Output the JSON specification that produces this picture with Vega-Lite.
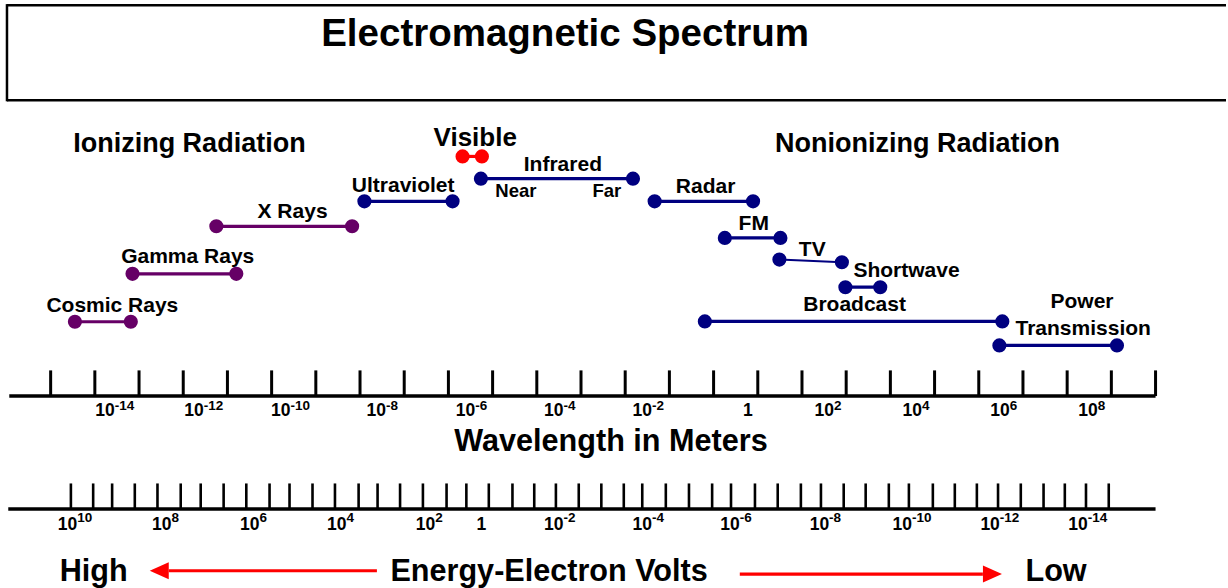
{
  "$schema": "https://vega.github.io/schema/vega-lite/v6.json",
  "width": 1228,
  "height": 588,
  "autosize": {"type": "fit", "contains": "padding"},
  "padding": 0,
  "background": "white",
  "config": {"view": {"stroke": null}},
  "datasets": {
    "frame": [
      {"x1": -16.488, "x2": 11.094, "y1": 99.10, "y2": 99.10},
      {"x1": -16.488, "x2": 11.094, "y1": 82.94, "y2": 82.94},
      {"x1": -16.488, "x2": -16.488, "y1": 99.30, "y2": 82.74}
    ],
    "segments": [
      {"name": "Cosmic Rays", "group": "ionizing", "x1": -14.951, "x2": -13.686, "y1": 45.19, "y2": 45.19},
      {"name": "Gamma Rays", "group": "ionizing", "x1": -13.648, "x2": -11.299, "y1": 53.35, "y2": 53.35},
      {"name": "X Rays", "group": "ionizing", "x1": -11.751, "x2": -8.679, "y1": 61.45, "y2": 61.45},
      {"name": "Ultraviolet", "group": "other", "x1": -8.401, "x2": -6.406, "y1": 65.70, "y2": 65.70},
      {"name": "Visible", "group": "visible", "x1": -6.180, "x2": -5.742, "y1": 73.35, "y2": 73.35},
      {"name": "Infrared", "group": "other", "x1": -5.765, "x2": -2.324, "y1": 69.56, "y2": 69.56},
      {"name": "Radar", "group": "other", "x1": -1.834, "x2": 0.393, "y1": 65.70, "y2": 65.70},
      {"name": "FM", "group": "other", "x1": -0.246, "x2": 1.012, "y1": 59.47, "y2": 59.47},
      {"name": "TV", "group": "other", "x1": 0.989, "x2": 2.403, "y1": 55.78, "y2": 55.32},
      {"name": "Shortwave", "group": "other", "x1": 2.482, "x2": 3.271, "y1": 51.07, "y2": 51.07},
      {"name": "Broadcast", "group": "other", "x1": -0.698, "x2": 6.033, "y1": 45.24, "y2": 45.24},
      {"name": "Power Transmission", "group": "other", "x1": 5.966, "x2": 8.627, "y1": 41.16, "y2": 41.16}
    ],
    "labels": [
      {"text": "Electromagnetic Spectrum", "kind": "title", "x": -3.860, "y": 92.18},
      {"text": "Ionizing Radiation", "kind": "heading", "x": -12.361, "y": 74.03},
      {"text": "Nonionizing Radiation", "kind": "heading", "x": 4.113, "y": 74.03},
      {"text": "Visible", "kind": "visible", "x": -5.893, "y": 75.17},
      {"text": "Cosmic Rays", "kind": "series", "x": -14.104, "y": 46.82},
      {"text": "Gamma Rays", "kind": "series", "x": -12.399, "y": 55.22},
      {"text": "X Rays", "kind": "series", "x": -10.027, "y": 62.87},
      {"text": "Ultraviolet", "kind": "series", "x": -7.524, "y": 67.23},
      {"text": "Infrared", "kind": "series", "x": -3.910, "y": 70.92},
      {"text": "Near", "kind": "sub", "x": -4.974, "y": 66.38},
      {"text": "Far", "kind": "sub", "x": -2.916, "y": 66.38},
      {"text": "Radar", "kind": "series", "x": -0.682, "y": 67.13},
      {"text": "FM", "kind": "series", "x": 0.409, "y": 60.88},
      {"text": "TV", "kind": "series", "x": 1.733, "y": 56.46},
      {"text": "Shortwave", "kind": "series", "x": 3.865, "y": 52.77},
      {"text": "Broadcast", "kind": "series", "x": 2.690, "y": 46.99},
      {"text": "Power", "kind": "series", "x": 7.836, "y": 47.57},
      {"text": "Transmission", "kind": "series", "x": 7.863, "y": 42.91},
      {"text": "Wavelength in Meters", "kind": "axis", "x": -2.821, "y": 23.18},
      {"text": "Energy-Electron Volts", "kind": "axis", "x": -4.222, "y": 1.07},
      {"text": "High", "kind": "axis", "x": -14.526, "y": 1.07},
      {"text": "Low", "kind": "axis", "x": 7.249, "y": 1.07}
    ],
    "axislines": [
      {"axis": "wavelength", "x1": -16.436, "x2": 9.5, "y": 32.53},
      {"axis": "energy", "x1": -16.459, "x2": 9.5, "y": 13.27}
    ],
    "ticks": [
      {"axis": "wavelength", "x": -15.5}, {"axis": "wavelength", "x": -14.5}, {"axis": "wavelength", "x": -13.5},
      {"axis": "wavelength", "x": -12.5}, {"axis": "wavelength", "x": -11.5}, {"axis": "wavelength", "x": -10.5},
      {"axis": "wavelength", "x": -9.5}, {"axis": "wavelength", "x": -8.5}, {"axis": "wavelength", "x": -7.5},
      {"axis": "wavelength", "x": -6.5}, {"axis": "wavelength", "x": -5.5}, {"axis": "wavelength", "x": -4.5},
      {"axis": "wavelength", "x": -3.5}, {"axis": "wavelength", "x": -2.5}, {"axis": "wavelength", "x": -1.5},
      {"axis": "wavelength", "x": -0.5}, {"axis": "wavelength", "x": 0.5}, {"axis": "wavelength", "x": 1.5},
      {"axis": "wavelength", "x": 2.5}, {"axis": "wavelength", "x": 3.5}, {"axis": "wavelength", "x": 4.5},
      {"axis": "wavelength", "x": 5.5}, {"axis": "wavelength", "x": 6.5}, {"axis": "wavelength", "x": 7.5},
      {"axis": "wavelength", "x": 8.5}, {"axis": "wavelength", "x": 9.5},
      {"axis": "energy", "x": -15.042}, {"axis": "energy", "x": -14.538}, {"axis": "energy", "x": -14.109},
      {"axis": "energy", "x": -13.596}, {"axis": "energy", "x": -13.083}, {"axis": "energy", "x": -12.557},
      {"axis": "energy", "x": -12.105}, {"axis": "energy", "x": -11.586}, {"axis": "energy", "x": -11.073},
      {"axis": "energy", "x": -10.547}, {"axis": "energy", "x": -10.095}, {"axis": "energy", "x": -9.575},
      {"axis": "energy", "x": -9.067}, {"axis": "energy", "x": -8.532}, {"axis": "energy", "x": -8.103},
      {"axis": "energy", "x": -7.594}, {"axis": "energy", "x": -7.077}, {"axis": "energy", "x": -6.542},
      {"axis": "energy", "x": -6.094}, {"axis": "energy", "x": -5.586}, {"axis": "energy", "x": -5.051},
      {"axis": "energy", "x": -4.558}, {"axis": "energy", "x": -4.068}, {"axis": "energy", "x": -3.551},
      {"axis": "energy", "x": -3.040}, {"axis": "energy", "x": -2.532}, {"axis": "energy", "x": -2.114},
      {"axis": "energy", "x": -1.581}, {"axis": "energy", "x": -1.057}, {"axis": "energy", "x": -0.533},
      {"axis": "energy", "x": -0.106}, {"axis": "energy", "x": 0.436}, {"axis": "energy", "x": 0.951},
      {"axis": "energy", "x": 1.475}, {"axis": "energy", "x": 1.929}, {"axis": "energy", "x": 2.444},
      {"axis": "energy", "x": 2.941}, {"axis": "energy", "x": 3.465}, {"axis": "energy", "x": 3.919},
      {"axis": "energy", "x": 4.461}, {"axis": "energy", "x": 4.958}, {"axis": "energy", "x": 5.457},
      {"axis": "energy", "x": 5.936}, {"axis": "energy", "x": 6.451}, {"axis": "energy", "x": 6.966},
      {"axis": "energy", "x": 7.447}, {"axis": "energy", "x": 7.926}, {"axis": "energy", "x": 8.441}
    ],
    "ticklabels": [
      {"axis": "wavelength", "x": -14.048, "base": "10", "exp": "-14"},
      {"axis": "wavelength", "x": -12.038, "base": "10", "exp": "-12"},
      {"axis": "wavelength", "x": -10.072, "base": "10", "exp": "-10"},
      {"axis": "wavelength", "x": -7.913, "base": "10", "exp": "-8"},
      {"axis": "wavelength", "x": -5.893, "base": "10", "exp": "-6"},
      {"axis": "wavelength", "x": -3.894, "base": "10", "exp": "-4"},
      {"axis": "wavelength", "x": -1.895, "base": "10", "exp": "-2"},
      {"axis": "wavelength", "x": 0.386, "base": "1", "exp": ""},
      {"axis": "wavelength", "x": 2.223, "base": "10", "exp": "2"},
      {"axis": "wavelength", "x": 4.213, "base": "10", "exp": "4"},
      {"axis": "wavelength", "x": 6.203, "base": "10", "exp": "6"},
      {"axis": "wavelength", "x": 8.193, "base": "10", "exp": "8"},
      {"axis": "energy", "x": -14.9, "base": "10", "exp": "10"},
      {"axis": "energy", "x": -12.767, "base": "10", "exp": "8"},
      {"axis": "energy", "x": -10.773, "base": "10", "exp": "6"},
      {"axis": "energy", "x": -8.807, "base": "10", "exp": "4"},
      {"axis": "energy", "x": -6.797, "base": "10", "exp": "2"},
      {"axis": "energy", "x": -5.645, "base": "1", "exp": ""},
      {"axis": "energy", "x": -3.894, "base": "10", "exp": "-2"},
      {"axis": "energy", "x": -1.895, "base": "10", "exp": "-4"},
      {"axis": "energy", "x": 0.093, "base": "10", "exp": "-6"},
      {"axis": "energy", "x": 2.114, "base": "10", "exp": "-8"},
      {"axis": "energy", "x": 3.987, "base": "10", "exp": "-10"},
      {"axis": "energy", "x": 5.977, "base": "10", "exp": "-12"},
      {"axis": "energy", "x": 7.967, "base": "10", "exp": "-14"}
    ],
    "arrows": [
      {"dir": "left", "x1": -12.828, "x2": -8.118, "head": -13.043, "y": 2.77},
      {"dir": "right", "x1": 0.093, "x2": 5.593, "head": 5.810, "y": 2.21}
    ]
  },
  "layer": [
    {
      "data": {"name": "frame"},
      "mark": {"type": "rule", "color": "black", "strokeWidth": 2.5},
      "encoding": {
        "x": {"field": "x1", "type": "quantitative", "scale": {"domain": [-16.646, 11.094], "nice": false, "zero": false}, "axis": null},
        "x2": {"field": "x2"},
        "y": {"field": "y1", "type": "quantitative", "scale": {"domain": [0, 100], "nice": false, "zero": false}, "axis": null},
        "y2": {"field": "y2"}
      }
    },
    {
      "data": {"name": "segments"},
      "mark": {"type": "rule"},
      "encoding": {
        "x": {"field": "x1", "type": "quantitative", "scale": {"domain": [-16.646, 11.094], "nice": false, "zero": false}, "axis": null},
        "x2": {"field": "x2"},
        "y": {"field": "y1", "type": "quantitative", "scale": {"domain": [0, 100], "nice": false, "zero": false}, "axis": null},
        "y2": {"field": "y2"},
        "color": {"field": "group", "type": "nominal", "scale": {"domain": ["ionizing", "visible", "other"], "range": ["#660066", "#ff0000", "#000080"]}, "legend": null},
        "strokeWidth": {"condition": {"test": "datum.name === 'TV'", "value": 2}, "value": 3.2}
      }
    },
    {
      "data": {"name": "segments"},
      "mark": {"type": "circle", "size": 200, "opacity": 1},
      "encoding": {
        "x": {"field": "x1", "type": "quantitative", "scale": {"domain": [-16.646, 11.094], "nice": false, "zero": false}, "axis": null},
        "y": {"field": "y1", "type": "quantitative", "scale": {"domain": [0, 100], "nice": false, "zero": false}, "axis": null},
        "color": {"field": "group", "type": "nominal", "scale": {"domain": ["ionizing", "visible", "other"], "range": ["#660066", "#ff0000", "#000080"]}, "legend": null}
      }
    },
    {
      "data": {"name": "segments"},
      "mark": {"type": "circle", "size": 200, "opacity": 1},
      "encoding": {
        "x": {"field": "x2", "type": "quantitative", "scale": {"domain": [-16.646, 11.094], "nice": false, "zero": false}, "axis": null},
        "y": {"field": "y2", "type": "quantitative", "scale": {"domain": [0, 100], "nice": false, "zero": false}, "axis": null},
        "color": {"field": "group", "type": "nominal", "scale": {"domain": ["ionizing", "visible", "other"], "range": ["#660066", "#ff0000", "#000080"]}, "legend": null}
      }
    },
    {
      "data": {"name": "labels"},
      "transform": [{"filter": "datum.kind === 'title'"}],
      "mark": {"type": "text", "font": "Liberation Sans", "fontWeight": "bold", "fontSize": 38.5, "align": "center", "baseline": "alphabetic", "color": "black"},
      "encoding": {
        "x": {"field": "x", "type": "quantitative", "scale": {"domain": [-16.646, 11.094], "nice": false, "zero": false}, "axis": null},
        "y": {"field": "y", "type": "quantitative", "scale": {"domain": [0, 100], "nice": false, "zero": false}, "axis": null},
        "text": {"field": "text"}
      }
    },
    {
      "data": {"name": "labels"},
      "transform": [{"filter": "datum.kind === 'heading'"}],
      "mark": {"type": "text", "font": "Liberation Sans", "fontWeight": "bold", "fontSize": 27, "align": "center", "baseline": "alphabetic", "color": "black"},
      "encoding": {
        "x": {"field": "x", "type": "quantitative", "scale": {"domain": [-16.646, 11.094], "nice": false, "zero": false}, "axis": null},
        "y": {"field": "y", "type": "quantitative", "scale": {"domain": [0, 100], "nice": false, "zero": false}, "axis": null},
        "text": {"field": "text"}
      }
    },
    {
      "data": {"name": "labels"},
      "transform": [{"filter": "datum.kind === 'visible'"}],
      "mark": {"type": "text", "font": "Liberation Sans", "fontWeight": "bold", "fontSize": 26, "align": "center", "baseline": "alphabetic", "color": "black"},
      "encoding": {
        "x": {"field": "x", "type": "quantitative", "scale": {"domain": [-16.646, 11.094], "nice": false, "zero": false}, "axis": null},
        "y": {"field": "y", "type": "quantitative", "scale": {"domain": [0, 100], "nice": false, "zero": false}, "axis": null},
        "text": {"field": "text"}
      }
    },
    {
      "data": {"name": "labels"},
      "transform": [{"filter": "datum.kind === 'series'"}],
      "mark": {"type": "text", "font": "Liberation Sans", "fontWeight": "bold", "fontSize": 21, "align": "center", "baseline": "alphabetic", "color": "black"},
      "encoding": {
        "x": {"field": "x", "type": "quantitative", "scale": {"domain": [-16.646, 11.094], "nice": false, "zero": false}, "axis": null},
        "y": {"field": "y", "type": "quantitative", "scale": {"domain": [0, 100], "nice": false, "zero": false}, "axis": null},
        "text": {"field": "text"}
      }
    },
    {
      "data": {"name": "labels"},
      "transform": [{"filter": "datum.kind === 'sub'"}],
      "mark": {"type": "text", "font": "Liberation Sans", "fontWeight": "bold", "fontSize": 18.5, "align": "center", "baseline": "alphabetic", "color": "black"},
      "encoding": {
        "x": {"field": "x", "type": "quantitative", "scale": {"domain": [-16.646, 11.094], "nice": false, "zero": false}, "axis": null},
        "y": {"field": "y", "type": "quantitative", "scale": {"domain": [0, 100], "nice": false, "zero": false}, "axis": null},
        "text": {"field": "text"}
      }
    },
    {
      "data": {"name": "labels"},
      "transform": [{"filter": "datum.kind === 'axis'"}],
      "mark": {"type": "text", "font": "Liberation Sans", "fontWeight": "bold", "fontSize": 30.6, "align": "center", "baseline": "alphabetic", "color": "black"},
      "encoding": {
        "x": {"field": "x", "type": "quantitative", "scale": {"domain": [-16.646, 11.094], "nice": false, "zero": false}, "axis": null},
        "y": {"field": "y", "type": "quantitative", "scale": {"domain": [0, 100], "nice": false, "zero": false}, "axis": null},
        "text": {"field": "text"}
      }
    },
    {
      "data": {"name": "axislines"},
      "mark": {"type": "rule", "color": "black", "strokeWidth": 3.5},
      "encoding": {
        "x": {"field": "x1", "type": "quantitative", "scale": {"domain": [-16.646, 11.094], "nice": false, "zero": false}, "axis": null},
        "x2": {"field": "x2"},
        "y": {"field": "y", "type": "quantitative", "scale": {"domain": [0, 100], "nice": false, "zero": false}, "axis": null}
      }
    },
    {
      "data": {"name": "ticks"},
      "transform": [{"filter": "datum.axis === 'wavelength'"}],
      "mark": {"type": "rule", "color": "black", "strokeWidth": 3},
      "encoding": {
        "x": {"field": "x", "type": "quantitative", "scale": {"domain": [-16.646, 11.094], "nice": false, "zero": false}, "axis": null},
        "y": {"datum": 32.53, "type": "quantitative", "scale": {"domain": [0, 100], "nice": false, "zero": false}, "axis": null},
        "y2": {"datum": 36.9}
      }
    },
    {
      "data": {"name": "ticks"},
      "transform": [{"filter": "datum.axis === 'energy'"}],
      "mark": {"type": "rule", "color": "black", "strokeWidth": 2.6},
      "encoding": {
        "x": {"field": "x", "type": "quantitative", "scale": {"domain": [-16.646, 11.094], "nice": false, "zero": false}, "axis": null},
        "y": {"datum": 13.27, "type": "quantitative", "scale": {"domain": [0, 100], "nice": false, "zero": false}, "axis": null},
        "y2": {"datum": 17.64}
      }
    },
    {
      "data": {"name": "ticklabels"},
      "transform": [{"filter": "datum.axis === 'wavelength'"}],
      "mark": {"type": "text", "font": "Liberation Sans", "fontWeight": "bold", "fontSize": 17.5, "align": "right", "baseline": "alphabetic", "color": "black"},
      "encoding": {
        "x": {"field": "x", "type": "quantitative", "scale": {"domain": [-16.646, 11.094], "nice": false, "zero": false}, "axis": null},
        "y": {"datum": 29.13, "type": "quantitative", "scale": {"domain": [0, 100], "nice": false, "zero": false}, "axis": null},
        "text": {"field": "base"}
      }
    },
    {
      "data": {"name": "ticklabels"},
      "transform": [{"filter": "datum.axis === 'wavelength'"}],
      "mark": {"type": "text", "font": "Liberation Sans", "fontWeight": "bold", "fontSize": 13.5, "align": "left", "baseline": "alphabetic", "color": "black"},
      "encoding": {
        "x": {"field": "x", "type": "quantitative", "scale": {"domain": [-16.646, 11.094], "nice": false, "zero": false}, "axis": null},
        "y": {"datum": 30.1, "type": "quantitative", "scale": {"domain": [0, 100], "nice": false, "zero": false}, "axis": null},
        "text": {"field": "exp"}
      }
    },
    {
      "data": {"name": "ticklabels"},
      "transform": [{"filter": "datum.axis === 'energy'"}],
      "mark": {"type": "text", "font": "Liberation Sans", "fontWeight": "bold", "fontSize": 17.5, "align": "right", "baseline": "alphabetic", "color": "black"},
      "encoding": {
        "x": {"field": "x", "type": "quantitative", "scale": {"domain": [-16.646, 11.094], "nice": false, "zero": false}, "axis": null},
        "y": {"datum": 9.69, "type": "quantitative", "scale": {"domain": [0, 100], "nice": false, "zero": false}, "axis": null},
        "text": {"field": "base"}
      }
    },
    {
      "data": {"name": "ticklabels"},
      "transform": [{"filter": "datum.axis === 'energy'"}],
      "mark": {"type": "text", "font": "Liberation Sans", "fontWeight": "bold", "fontSize": 13.5, "align": "left", "baseline": "alphabetic", "color": "black"},
      "encoding": {
        "x": {"field": "x", "type": "quantitative", "scale": {"domain": [-16.646, 11.094], "nice": false, "zero": false}, "axis": null},
        "y": {"datum": 11.0, "type": "quantitative", "scale": {"domain": [0, 100], "nice": false, "zero": false}, "axis": null},
        "text": {"field": "exp"}
      }
    },
    {
      "data": {"name": "arrows"},
      "mark": {"type": "rule", "color": "#ff0000", "strokeWidth": 3.2},
      "encoding": {
        "x": {"field": "x1", "type": "quantitative", "scale": {"domain": [-16.646, 11.094], "nice": false, "zero": false}, "axis": null},
        "x2": {"field": "x2"},
        "y": {"field": "y", "type": "quantitative", "scale": {"domain": [0, 100], "nice": false, "zero": false}, "axis": null}
      }
    },
    {
      "data": {"name": "arrows"},
      "mark": {"type": "point", "filled": true, "opacity": 1, "size": 361, "color": "#ff0000", "strokeWidth": 0},
      "encoding": {
        "x": {"field": "head", "type": "quantitative", "scale": {"domain": [-16.646, 11.094], "nice": false, "zero": false}, "axis": null},
        "y": {"field": "y", "type": "quantitative", "scale": {"domain": [0, 100], "nice": false, "zero": false}, "axis": null},
        "shape": {"field": "dir", "type": "nominal", "scale": {"domain": ["left", "right"], "range": ["M-1,0L1,-0.9L1,0.9Z", "M1,0L-1,-0.9L-1,0.9Z"]}, "legend": null}
      }
    }
  ]
}
